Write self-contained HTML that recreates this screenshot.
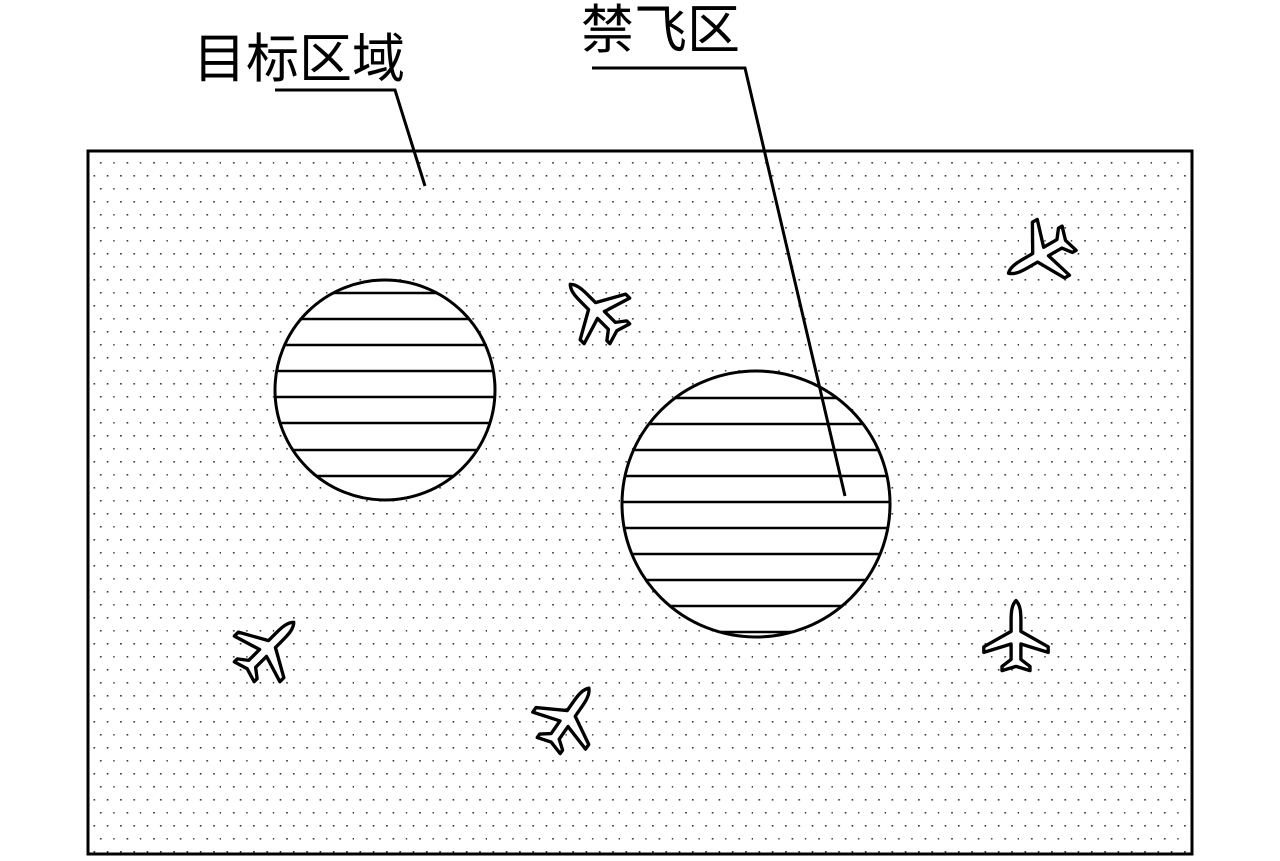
<!DOCTYPE html>
<html><head><meta charset="utf-8"><style>
html,body{margin:0;padding:0;background:#fff}
</style></head><body>
<svg width="1280" height="856" xmlns="http://www.w3.org/2000/svg">
<defs>
<pattern id="dots" x="88" y="151" width="26.6" height="26" patternUnits="userSpaceOnUse">
<rect x="12" y="11" width="1.6" height="1.6" fill="#333"/>
<rect x="5.5" y="24" width="1.6" height="1.6" fill="#333"/>
<rect x="18.8" y="24" width="1.6" height="1.6" fill="#333"/>
<rect x="25.3" y="11" width="1.6" height="1.6" fill="#333"/>
</pattern>
<g id="plane">
<path d="M0,-26 C3,-23 3.5,-18 3.5,-12 L3.5,-4 L23,7 L23,11 L3.5,5 L3.5,16 L10,21 L10,24 L0,21 L-10,24 L-10,21 L-3.5,16 L-3.5,5 L-23,11 L-23,7 L-3.5,-4 L-3.5,-12 C-3.5,-18 -3,-23 0,-26Z" fill="#fff" stroke="#000" stroke-width="2.4" stroke-linejoin="round"/>
</g>
<clipPath id="c1"><circle cx="385" cy="390" r="110"/></clipPath>
<clipPath id="c2"><ellipse cx="756" cy="504" rx="134" ry="133"/></clipPath>
</defs>
<rect x="88" y="151" width="1104" height="703" fill="url(#dots)" stroke="#000" stroke-width="3"/>
<circle cx="385" cy="390" r="110" fill="#fff" stroke="#000" stroke-width="3"/>
<g clip-path="url(#c1)" stroke="#000" stroke-width="2.5">
<line x1="270" y1="293" x2="500" y2="293"/><line x1="270" y1="319" x2="500" y2="319"/>
<line x1="270" y1="345" x2="500" y2="345"/><line x1="270" y1="371" x2="500" y2="371"/>
<line x1="270" y1="397" x2="500" y2="397"/><line x1="270" y1="423" x2="500" y2="423"/>
<line x1="270" y1="450" x2="500" y2="450"/><line x1="270" y1="476" x2="500" y2="476"/>
</g>
<ellipse cx="756" cy="504" rx="134" ry="133" fill="#fff" stroke="#000" stroke-width="3"/>
<g clip-path="url(#c2)" stroke="#000" stroke-width="2.5">
<line x1="610" y1="398" x2="900" y2="398"/><line x1="610" y1="424" x2="900" y2="424"/>
<line x1="610" y1="450" x2="900" y2="450"/><line x1="610" y1="476" x2="900" y2="476"/>
<line x1="610" y1="502" x2="900" y2="502"/><line x1="610" y1="528" x2="900" y2="528"/>
<line x1="610" y1="554" x2="900" y2="554"/><line x1="610" y1="580" x2="900" y2="580"/>
<line x1="610" y1="606" x2="900" y2="606"/><line x1="610" y1="632" x2="900" y2="632"/>
</g>
<polyline points="275,90 395,90 425,186" fill="none" stroke="#000" stroke-width="3"/>
<polyline points="592,68 745,68 845,496" fill="none" stroke="#000" stroke-width="3"/>
<text x="193" y="77" font-family="Liberation Sans, Noto Sans CJK SC, sans-serif" font-size="53">目标区域</text>
<text x="581" y="48" font-family="Liberation Sans, Noto Sans CJK SC, sans-serif" font-size="53">禁飞区</text>
<use href="#plane" transform="translate(596,310) rotate(-45) scale(1.4)"/>
<use href="#plane" transform="translate(1040,255) rotate(-120) scale(1.4)"/>
<use href="#plane" transform="translate(268,648) rotate(45) scale(1.4)"/>
<use href="#plane" transform="translate(568,718) rotate(35) scale(1.4)"/>
<use href="#plane" transform="translate(1016,637) scale(1.4)"/>
</svg>
</body></html>
